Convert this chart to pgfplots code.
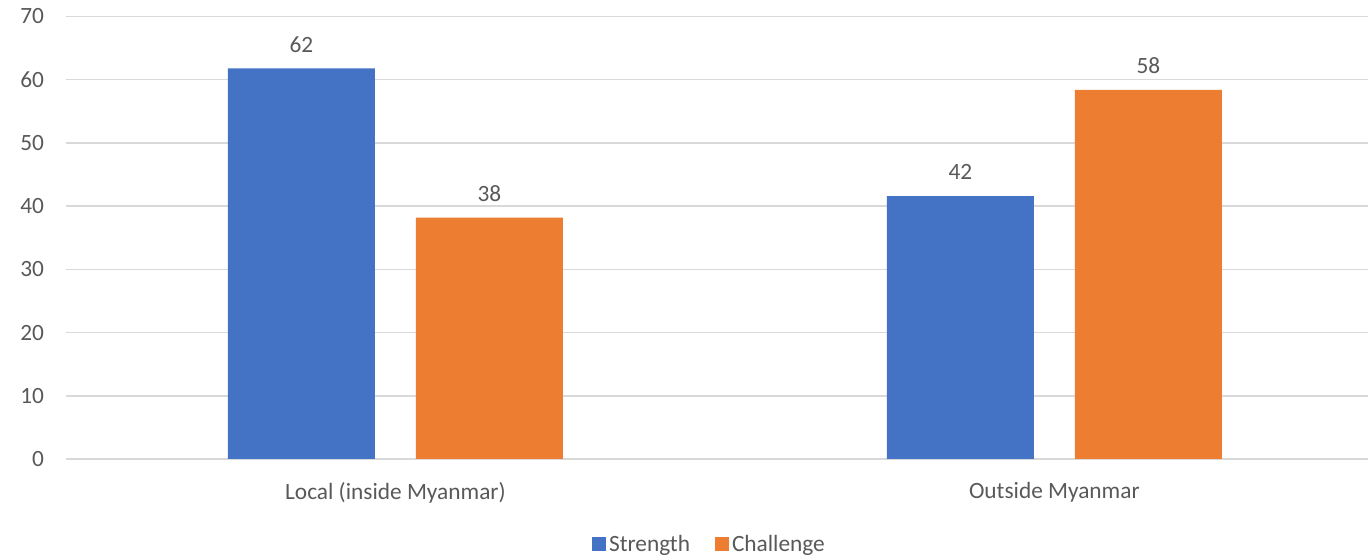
\documentclass[border=0pt]{standalone}
\usepackage{pgfplots}
\pgfplotsset{compat=1.18}
\usepackage{fontspec}
\setmainfont{Carlito}
\definecolor{cblue}{HTML}{4472C4}
\definecolor{corange}{HTML}{ED7D31}
\definecolor{ctext}{HTML}{595959}
\definecolor{cgrid}{HTML}{D9D9D9}
\begin{document}
\begin{tikzpicture}
\useasboundingbox (0,0) rectangle (1026pt,417pt);
\begin{axis}[
  at={(49.5pt,72.75pt)}, anchor=south west,
  scale only axis,
  width=976.5pt, height=331.875pt,
  ybar, bar width=110.25pt,
  xmin=-0.5, xmax=1.476,
  ymin=0, ymax=70, ytick={0,10,...,70},
  xtick={0,1}, xticklabels={Local (inside Myanmar), Outside Myanmar},
  axis line style={draw=none},
  ymajorgrids, grid style={cgrid, line width=1.1pt},
  major tick length=0pt,
  tick label style={font=\fontsize{17.5pt}{20pt}\selectfont, text=ctext},
  /pgf/number format/assume math mode=true,
  yticklabel style={xshift=-13pt},
  xticklabel style={yshift=-14pt},
  clip=false,
  nodes near coords,
  nodes near coords style={font=\fontsize{17.5pt}{20pt}\selectfont, text=ctext, /pgf/number format/fixed, /pgf/number format/precision=0, /pgf/number format/assume math mode=true, yshift=8.5pt},
  legend style={at={(0.4946,-0.192)}, anchor=center, draw=none, legend columns=-1, font=\fontsize{17.5pt}{20pt}\selectfont, text=ctext, /tikz/every even column/.append style={column sep=17pt}},
  legend image code/.code={\fill[#1] (0pt,-5.25pt) rectangle (10.5pt,5.25pt);},
]
\draw[cgrid, line width=1.1pt] (axis cs:-0.5,0) -- (axis cs:1.476,0);
\addplot[fill=cblue, draw=none, bar shift=-70.5pt] coordinates {(0,61.8) (1,41.6)};
\addplot[fill=corange, draw=none, bar shift=70.5pt] coordinates {(0,38.2) (1,58.4)};
\legend{Strength, Challenge}
\end{axis}
\end{tikzpicture}
\end{document}
